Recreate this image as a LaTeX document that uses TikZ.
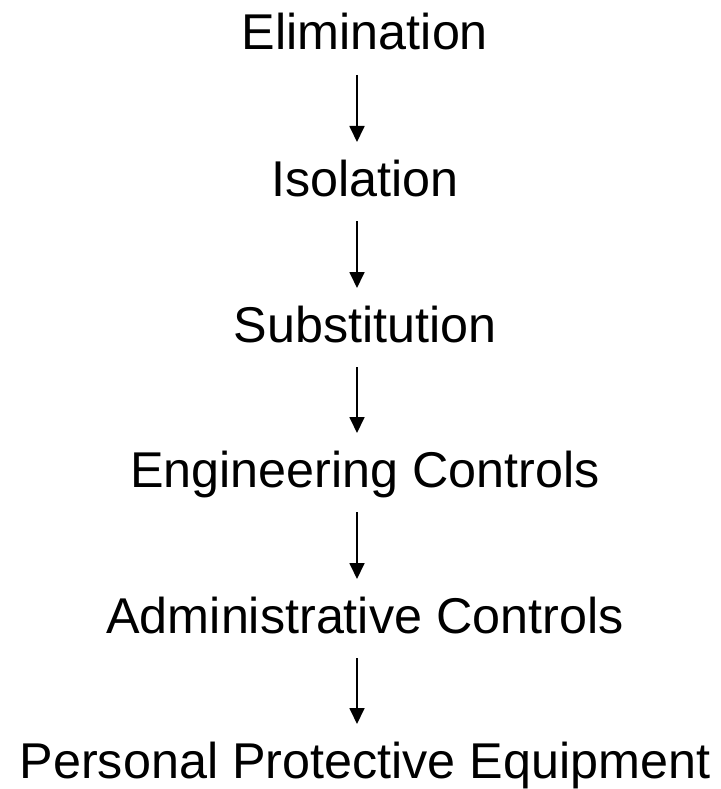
\documentclass[tikz,border=0pt]{standalone}
\usepackage{fontspec}
\setmainfont{Liberation Sans}
\usetikzlibrary{arrows.meta}
\begin{document}
\begin{tikzpicture}[x=1pt,y=1pt,
  lbl/.style={inner sep=0pt,anchor=base,font=\fontsize{50.3}{60}\selectfont},
  arr/.style={line width=1.8pt,-{Triangle[length=16pt,width=15pt]}}]
\useasboundingbox (0,0) rectangle (720,-789);
\node[lbl] (e) at (365,-50) {Elimination};
\node[lbl] (i) at (365,-196) {Isolation};
\node[lbl] (s) at (365,-342) {Substitution};
\node[lbl] (g) at (365,-487) {Engineering Controls};
\node[lbl] (a) at (365,-633) {Administrative Controls};
\node[lbl] (p) at (365,-778) {Personal Protective Equipment};
\foreach \u/\v in {e/i,i/s,s/g,g/a,a/p}{
  \draw[arr] ([xshift=-8pt,yshift=-25pt]\u.base) -- ([xshift=-8pt,yshift=54pt]\v.base);
}
\end{tikzpicture}
\end{document}
